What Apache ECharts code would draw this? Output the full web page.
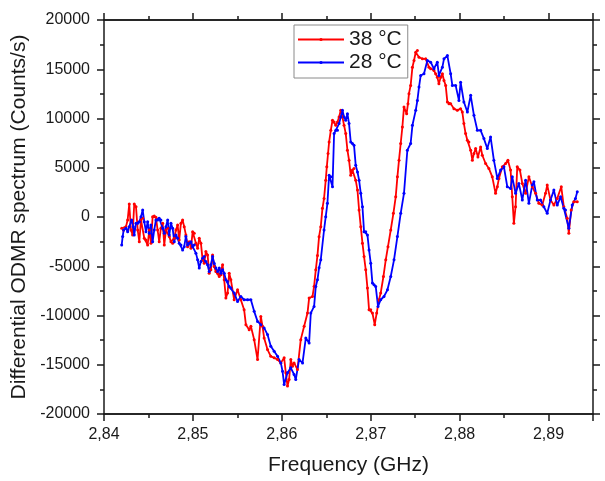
<!DOCTYPE html>
<html>
<head>
<meta charset="utf-8">
<script src="https://cdn.jsdelivr.net/npm/echarts@6/dist/echarts.min.js"></script>
<style>
  html, body { margin: 0; padding: 0; background: #fff; }
  #chart { width: 605px; height: 481px; }
</style>
</head>
<body>
<div id="chart"></div>
<script>
// [frequency GHz, counts/s]
var odmr38 = [
  [2.84199,-1140],[2.84221,-1320],[2.84247,-980],[2.84266,-300],[2.84284,1320],[2.84303,-1320],[2.84322,-1820],[2.84340,1320],
  [2.84360,1040],[2.84379,-1320],[2.84397,-2500],[2.84416,-300],[2.84435,-130],[2.84453,-2160],[2.84472,-2330],[2.84491,-2830],
  [2.84509,-1320],[2.84528,-2660],[2.84547,30],[2.84565,100],[2.84584,-30],[2.84603,-1320],[2.84621,-2500],[2.84640,-1140],
  [2.84660,-640],[2.84678,-2830],[2.84697,-1320],[2.84716,-1140],[2.84734,-1990],[2.84753,-2500],[2.84772,-2660],[2.84790,-2160],
  [2.84809,-1320],[2.84828,-810],[2.84846,-2330],[2.84865,-640],[2.84884,-300],[2.84902,-980],[2.84921,-1820],[2.84940,-3010],
  [2.84958,-2500],[2.84978,-3170],[2.84997,-1490],[2.85015,-1650],[2.85034,-2660],[2.85053,-3170],[2.85071,-2160],[2.85090,-2660],
  [2.85109,-4350],[2.85127,-4690],[2.85146,-3510],[2.85165,-3850],[2.85183,-5700],[2.85202,-5360],[2.85221,-3850],[2.85239,-5030],
  [2.85258,-5540],[2.85278,-5700],[2.85296,-6040],[2.85315,-5870],[2.85334,-4860],[2.85352,-6380],[2.85371,-8230],[2.85390,-7720],
  [2.85408,-5700],[2.85427,-6380],[2.85464,-8400],[2.85502,-7390],[2.85539,-8400],[2.85576,-9410],[2.85596,-10930],[2.85633,-11440],
  [2.85652,-11100],[2.85689,-12450],[2.85727,-14470],[2.85764,-10090],[2.85783,-11100],[2.85801,-12280],[2.85839,-13460],[2.85876,-14140],
  [2.85914,-14300],[2.85952,-14470],[2.85989,-14810],[2.86026,-14300],[2.86045,-15820],[2.86064,-17170],[2.86082,-16500],[2.86101,-14470],
  [2.86120,-15150],[2.86138,-14810],[2.86176,-15480],[2.86213,-12450],[2.86251,-11100],[2.86289,-9750],[2.86307,-8230],[2.86345,-8070],
  [2.86363,-7050],[2.86382,-5360],[2.86401,-3900],[2.86419,-2000],[2.86438,-980],[2.86457,880],[2.86475,1890],[2.86494,3740],
  [2.86506,5090],[2.86520,6450],[2.86532,7620],[2.86551,8800],[2.86570,9820],[2.86588,9640],[2.86607,9310],[2.86626,9640],
  [2.86644,10150],[2.86663,10830],[2.86682,10150],[2.86700,9310],[2.86719,8470],[2.86738,6780],[2.86756,5770],[2.86775,4250],
  [2.86794,4760],[2.86812,4930],[2.86831,3740],[2.86851,2730],[2.86869,710],[2.86888,-980],[2.86907,-2660],[2.86925,-4020],
  [2.86944,-5360],[2.86963,-7200],[2.86981,-9410],[2.87000,-9410],[2.87019,-9750],[2.87045,-10930],[2.87067,-9750],[2.87093,-8400],
  [2.87112,-7720],[2.87143,-6040],[2.87169,-4350],[2.87194,-3010],[2.87225,-1320],[2.87255,370],[2.87281,2050],[2.87300,4080],
  [2.87318,5770],[2.87337,7460],[2.87356,9140],[2.87374,11160],[2.87404,10490],[2.87419,11510],[2.87430,12520],[2.87449,13360],
  [2.87469,15210],[2.87487,15890],[2.87506,16730],[2.87525,16900],[2.87543,16220],[2.87581,16060],[2.87618,16060],[2.87655,15210],
  [2.87674,15050],[2.87711,14880],[2.87730,14540],[2.87749,14200],[2.87767,13530],[2.87787,14200],[2.87806,14540],[2.87824,13860],
  [2.87843,13360],[2.87862,11670],[2.87880,11510],[2.87899,11510],[2.87936,11000],[2.87974,10830],[2.88011,11000],[2.88030,10660],
  [2.88048,9480],[2.88067,8470],[2.88087,7790],[2.88104,7620],[2.88124,6780],[2.88143,5770],[2.88161,6450],[2.88180,6950],
  [2.88206,6100],[2.88236,7110],[2.88255,6270],[2.88292,5430],[2.88329,4930],[2.88367,4080],[2.88404,2400],[2.88424,3070],
  [2.88442,3920],[2.88480,5090],[2.88517,5430],[2.88543,5770],[2.88573,4760],[2.88592,2050],[2.88610,-640],[2.88629,1040],
  [2.88648,5090],[2.88678,4760],[2.88705,3410],[2.88742,2400],[2.88779,4080],[2.88817,3070],[2.88854,2400],[2.88891,1390],
  [2.88929,1210],[2.88966,2400],[2.88985,3240],[2.89022,1720],[2.89060,1210],[2.89098,1890],[2.89143,3070],[2.89172,1040],
  [2.89210,-130],[2.89228,-1650],[2.89255,710],[2.89284,1550],[2.89323,1550]
];

var odmr28 = [
  [2.84199,-2830],[2.84210,-1990],[2.84221,-1320],[2.84247,-1140],[2.84266,-1490],[2.84284,-980],[2.84311,-300],[2.84329,-980],
  [2.84340,-1820],[2.84360,-640],[2.84379,-640],[2.84397,-480],[2.84416,30],[2.84435,710],[2.84453,-480],[2.84472,-1490],
  [2.84491,-480],[2.84509,-1650],[2.84528,-810],[2.84547,-2500],[2.84565,-1320],[2.84584,-300],[2.84603,-300],[2.84621,-130],
  [2.84640,-300],[2.84660,-1140],[2.84678,-1650],[2.84697,-980],[2.84716,-300],[2.84734,-1820],[2.84753,-640],[2.84772,-1140],
  [2.84790,-2500],[2.84809,-1820],[2.84828,-2160],[2.84846,-2660],[2.84865,-2830],[2.84884,-3340],[2.84902,-3010],[2.84921,-1990],
  [2.84940,-2830],[2.84958,-2660],[2.84978,-2500],[2.84997,-3010],[2.85015,-2830],[2.85034,-3670],[2.85053,-4350],[2.85071,-5190],
  [2.85090,-4520],[2.85109,-4180],[2.85127,-4020],[2.85146,-4520],[2.85165,-4860],[2.85183,-5540],[2.85202,-4860],[2.85221,-4020],
  [2.85239,-4690],[2.85258,-5190],[2.85278,-5540],[2.85296,-5190],[2.85315,-5700],[2.85334,-5360],[2.85352,-5700],[2.85371,-6380],
  [2.85390,-6550],[2.85408,-7050],[2.85427,-7220],[2.85464,-7720],[2.85502,-8570],[2.85539,-8070],[2.85576,-8400],[2.85615,-8400],
  [2.85652,-8400],[2.85689,-9580],[2.85727,-10600],[2.85764,-10930],[2.85801,-11260],[2.85839,-11940],[2.85876,-13130],[2.85914,-13630],
  [2.85952,-14140],[2.85989,-14810],[2.86008,-15660],[2.86026,-17000],[2.86064,-15820],[2.86101,-15310],[2.86138,-15990],[2.86157,-16500],
  [2.86194,-14470],[2.86233,-14810],[2.86270,-12280],[2.86307,-12780],[2.86326,-9750],[2.86363,-9080],[2.86382,-7050],[2.86401,-6380],
  [2.86419,-5160],[2.86438,-4350],[2.86475,-1320],[2.86494,30],[2.86513,1390],[2.86532,4250],[2.86551,4080],[2.86570,3070],
  [2.86588,8470],[2.86607,8800],[2.86626,8800],[2.86644,9480],[2.86663,10150],[2.86682,10830],[2.86700,10150],[2.86719,9820],
  [2.86738,10490],[2.86756,9480],[2.86775,7620],[2.86794,7460],[2.86812,7290],[2.86831,5260],[2.86851,4580],[2.86869,3740],
  [2.86888,2400],[2.86907,1040],[2.86925,-1490],[2.86944,-1490],[2.86963,-1820],[2.86981,-3340],[2.87000,-4690],[2.87019,-6710],
  [2.87037,-6880],[2.87056,-7050],[2.87082,-9080],[2.87112,-8400],[2.87149,-8070],[2.87188,-7390],[2.87225,-6040],[2.87262,-4350],
  [2.87300,-1990],[2.87337,370],[2.87374,2400],[2.87412,6780],[2.87449,7460],[2.87469,9310],[2.87506,10830],[2.87525,11840],
  [2.87543,13190],[2.87562,14370],[2.87599,14540],[2.87637,15890],[2.87674,15720],[2.87711,15050],[2.87749,15720],[2.87767,14370],
  [2.87806,15210],[2.87824,16060],[2.87862,16390],[2.87899,14540],[2.87918,13360],[2.87955,13360],[2.87992,11840],[2.88011,13690],
  [2.88048,11670],[2.88087,10660],[2.88124,12350],[2.88161,10320],[2.88199,8800],[2.88236,8800],[2.88273,7960],[2.88311,6950],
  [2.88348,8130],[2.88385,5770],[2.88424,3920],[2.88461,4760],[2.88498,5090],[2.88536,3070],[2.88573,2900],[2.88592,4080],
  [2.88629,2400],[2.88666,3410],[2.88705,1720],[2.88742,3740],[2.88779,1390],[2.88817,3240],[2.88835,3570],[2.88873,1720],
  [2.88910,1720],[2.88947,1040],[2.88985,370],[2.89022,1720],[2.89060,2730],[2.89098,1210],[2.89135,2050],[2.89172,880],
  [2.89191,710],[2.89228,-1140],[2.89266,1210],[2.89303,1890],[2.89323,2560]
];

var seriesNames = ['38 °C', '28 °C'];
var seriesColors = ['#ff0000', '#0000ff'];

var xMin = 2.84, xMax = 2.895, xStep = 0.01;
var yMin = -20000, yMax = 20000, yStep = 5000;

var font = 'Liberation Sans, Arial, sans-serif';
var ink = '#1a1a1a';

var chart = echarts.init(document.getElementById('chart'), null, { renderer: 'canvas' });

function fmtX(v) {
	if (Math.abs(v * 100 - Math.round(v * 100)) > 1e-6) return '';
	return v.toFixed(2).replace('.', ',');
}

// one x axis: major ticks (long, maybe labels) or minor ticks (short)
function xAx(pos, step, tickLen, labels) {
	return {
		type: 'value', position: pos, min: xMin, max: xMax, interval: step,
		axisLine: { show: true, onZero: false, lineStyle: { color: ink, width: 1.5 } },
		axisTick: { show: true, inside: false, length: tickLen, lineStyle: { color: ink, width: 1.5 } },
		axisLabel: { show: labels, formatter: fmtX, fontSize: 16, color: ink, fontFamily: font, margin: 13 },
		splitLine: { show: false }
	};
}
function yAx(pos, labels) {
	return {
		type: 'value', position: pos, min: yMin, max: yMax, interval: yStep,
		axisLine: { show: true, onZero: false, lineStyle: { color: ink, width: 1.5 } },
		axisTick: { show: true, inside: false, length: 7, lineStyle: { color: ink, width: 1.5 } },
		minorTick: { show: true, splitNumber: 2, length: 4, lineStyle: { color: ink, width: 1.5 } },
		axisLabel: {
			show: labels, fontSize: 16, color: ink, fontFamily: font, margin: 14,
			formatter: function (v) { return String(v); }
		},
		splitLine: { show: false }
	};
}

var xMain = xAx('bottom', xStep, 7, true);
xMain.name = 'Frequency (GHz)';
xMain.nameLocation = 'middle';
xMain.nameGap = 41;
xMain.nameTextStyle = { fontSize: 21, color: ink, fontFamily: font };

var yMain = yAx('left', true);
yMain.name = 'Differential ODMR spectrum (Counts/s)';
yMain.nameLocation = 'middle';
yMain.nameGap = 62;
yMain.nameTextStyle = { fontSize: 21, color: ink, fontFamily: font };

var option = {
	animation: false,
	backgroundColor: '#fff',
	textStyle: { fontFamily: font },
	grid: { left: 104, right: 12, top: 20, bottom: 66, containLabel: false },
	legend: {
		left: 294, top: 25, orient: 'vertical',
		data: seriesNames,
		borderColor: '#8a8a8a', borderWidth: 1,
		padding: [4, 6, 5, 3],
		itemWidth: 46, itemHeight: 4, itemGap: 2,
		textStyle: { fontSize: 21, color: ink, fontFamily: font }
	},
	xAxis: [
		xMain,
		xAx('bottom', xStep / 2, 4, false),
		xAx('top', xStep, 7, false),
		xAx('top', xStep / 2, 4, false)
	],
	yAxis: [yMain, yAx('right', false)],
	series: [
		{
			name: seriesNames[0], type: 'line', data: odmr38,
			xAxisIndex: 0, yAxisIndex: 0,
			symbol: 'circle', symbolSize: 3, showSymbol: true,
			color: seriesColors[0],
			lineStyle: { width: 1.8, color: seriesColors[0] }
		},
		{
			name: seriesNames[1], type: 'line', data: odmr28,
			xAxisIndex: 0, yAxisIndex: 0,
			symbol: 'circle', symbolSize: 3, showSymbol: true,
			color: seriesColors[1],
			lineStyle: { width: 1.8, color: seriesColors[1] }
		}
	]
};

option && chart.setOption(option);
</script>
</body>
</html>
